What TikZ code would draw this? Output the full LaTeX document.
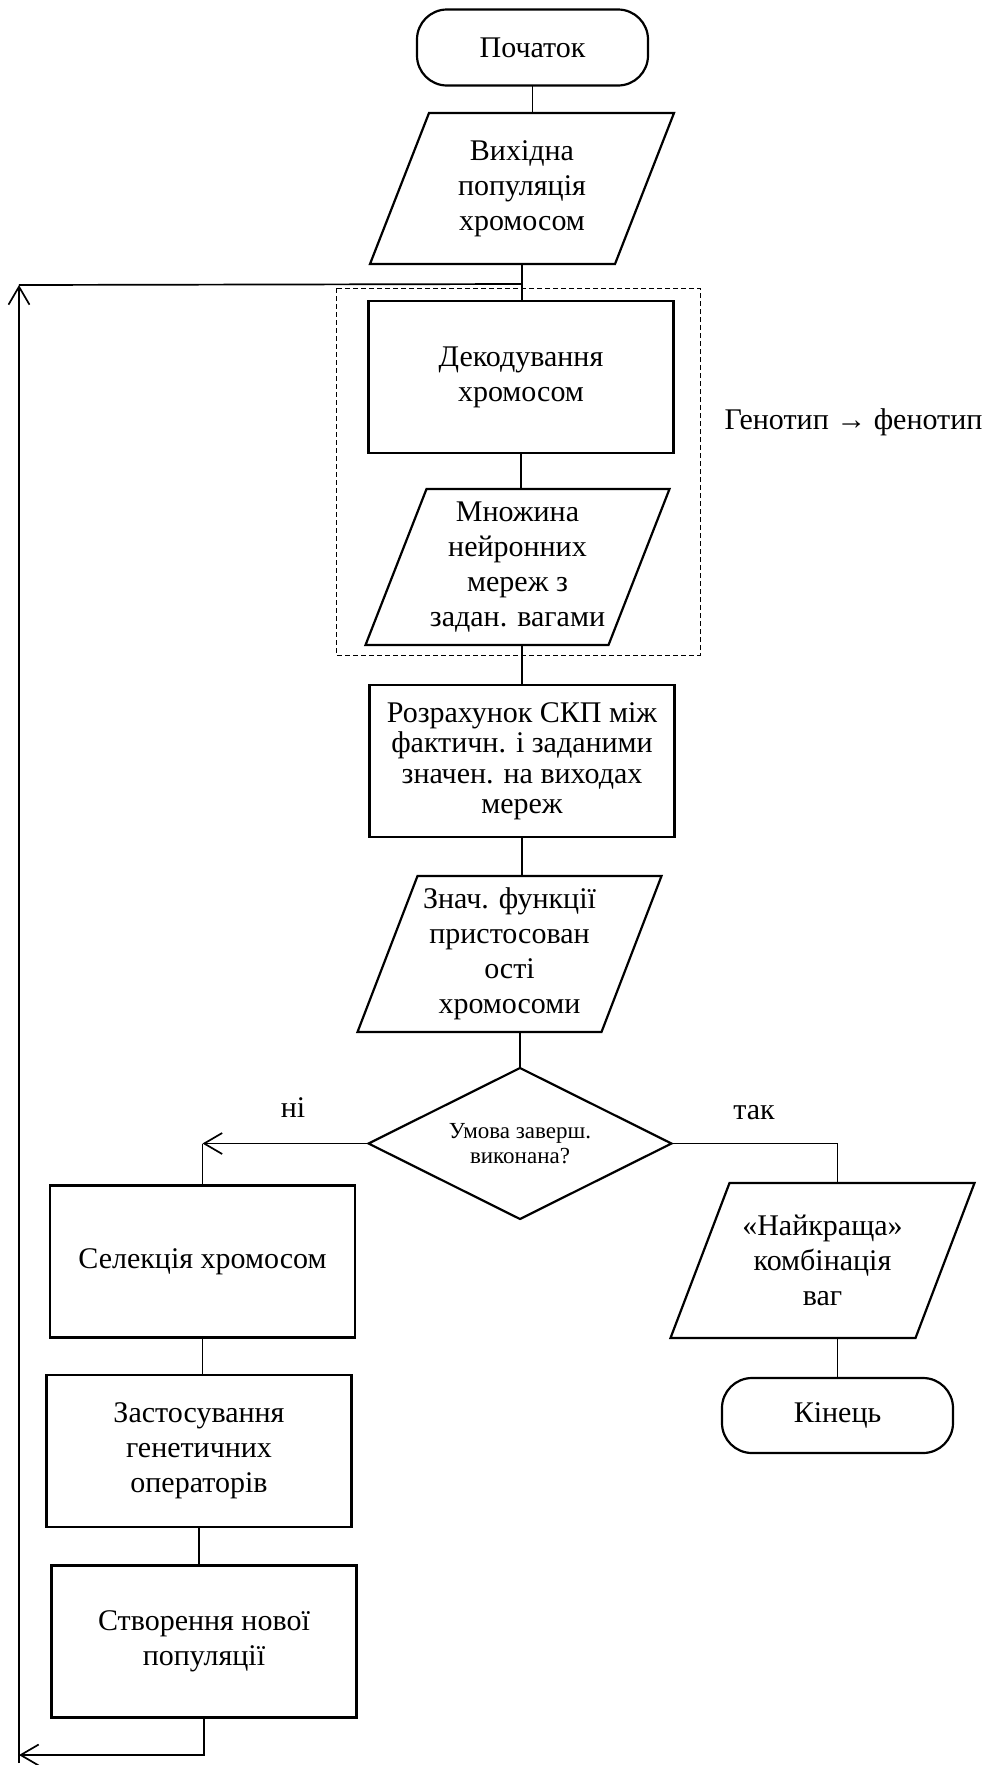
\documentclass[tikz,border=0pt]{standalone}
\usepackage{fontspec}
\setmainfont{Liberation Serif}
\usetikzlibrary{arrows.meta,shapes.geometric,calc}
\newcommand\drawpara[2]{\draw[shp] ([xshift=#2]#1.north west) -- (#1.north east) -- ([xshift=-#2]#1.south east) -- (#1.south west) -- cycle;}
\begin{document}
\begin{tikzpicture}[x=1pt,y=-1pt,
  txt/.style={font=\fontsize{30}{35}\selectfont, align=center, inner sep=0pt, outer sep=0pt},
  shp/.style={line width=2.2pt},
  boxnode/.style={txt, draw, shp, minimum width=305pt, minimum height=152pt},
  term/.style={txt, draw, shp, rounded corners=30pt},
  paranode/.style={txt, minimum width=304pt},
  conn/.style={line width=1.7pt},
  arr/.style={-{Straight Barb[length=18pt,width=21pt]}},
  decision/.style={diamond, draw, shp, aspect=2, inner sep=0pt, outer sep=0pt,
    minimum width=303pt, minimum height=151pt, font=\fontsize{23}{25.5}\selectfont, align=center},
  frame/.style={line width=1pt, dash pattern=on 5pt off 3pt}
]
\useasboundingbox (0,0) rectangle (984,1765);

\node[term, minimum width=231pt, minimum height=76pt] (start) at (532.5,47.5) {Початок};
\node[paranode, minimum height=151pt] (p1) at (522,188.5) {Вихідна\\популяція\\хромосом};
\drawpara{p1}{59pt}
\node[boxnode] (dec) at (521,377) {Декодування\\хромосом};
\node[paranode, minimum height=156pt] (p2) at (517.5,567) {Множина\\нейронних\\мереж з\\задан. вагами};
\drawpara{p2}{61pt}
\node[boxnode, font=\fontsize{30}{30.5}\selectfont] (rmse) at (522,761) {Розрахунок СКП між\\фактичн. і заданими\\значен. на виходах\\мереж};
\node[paranode, minimum height=156pt] (p4) at (509.5,954) {Знач. функції\\пристосован\\ості\\хромосоми};
\drawpara{p4}{60pt}
\node[decision] (cond) at (520,1143.5) {Умова заверш.\\виконана?};
\node[boxnode] (sel) at (202.5,1261.5) {Селекція хромосом};
\node[boxnode] (gen) at (199,1451) {Застосування\\генетичних\\операторів};
\node[boxnode] (newpop) at (204,1641.5) {Створення нової\\популяції};
\node[paranode, minimum height=155pt] (best) at (822.5,1260.5) {«Найкраща»\\комбінація\\ваг};
\drawpara{best}{59pt}
\node[term, minimum width=231pt, minimum height=75pt] (end) at (837.5,1415.5) {Кінець};

\node[txt] (gp) at (853.5,422) {Генотип → фенотип};
\node[txt] (no) at (293,1108) {ні};
\node[txt] (yes) at (754,1113) {так};

\draw[frame] (336,288) rectangle (700,655);

\coordinate (j) at (522,284);
\coordinate (lb) at (19,1755);
\coordinate (lbot) at (19,1763);
\coordinate (ltop) at (19,285);

\draw[conn] (start.south) -- (start.south |- p1.north);
\draw[conn] (p1.south) -- (p1.south |- dec.north);
\draw[conn] (dec.south) -- (dec.south |- p2.north);
\draw[conn] (p2.south -| rmse.north) -- (rmse.north);
\draw[conn] (rmse.south) -- (rmse.south |- p4.north);
\draw[conn] (p4.south -| cond.north) -- (cond.north);
\draw[conn, arr] (cond.west) -- (sel.north |- cond.west);
\draw[conn] (sel.north |- cond.west) -- (sel.north);
\draw[conn] (cond.east) -| (end.north |- best.north);
\draw[conn] (best.south -| end.north) -- (end.north);
\draw[conn] (sel.south) -- (sel.south |- gen.north);
\draw[conn] (gen.south) -- (gen.south |- newpop.north);
\draw[conn, arr] (newpop.south) |- (lb);
\draw[conn, arr] (lbot) -- (ltop);
\draw[conn] (ltop) -- (j);
\end{tikzpicture}
\end{document}
